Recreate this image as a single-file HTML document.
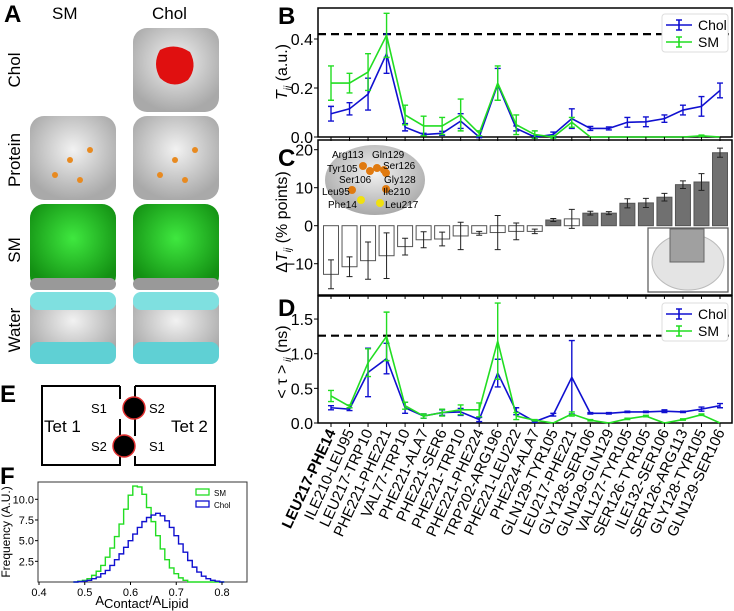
<!DOCTYPE html>
<html><head><meta charset="utf-8"><style>
body{margin:0;background:#fff;font-family:"Liberation Sans","DejaVu Sans",sans-serif}
svg{display:block}
</style></head><body>
<svg id="fig" width="734" height="611" viewBox="0 0 734 611" xmlns="http://www.w3.org/2000/svg" font-family="Liberation Sans, DejaVu Sans, sans-serif">
<defs>
<radialGradient id="gw" cx="50%" cy="40%" r="60%"><stop offset="0" stop-color="#f2f2f2"/><stop offset="1" stop-color="#a9a9a9"/></radialGradient>
<radialGradient id="gg" cx="50%" cy="40%" r="60%"><stop offset="0" stop-color="#3fe83f"/><stop offset="1" stop-color="#139013"/></radialGradient>
</defs>
<g>
<text x="4" y="22" font-size="24" font-weight="bold">A</text>
<text x="52" y="19" font-size="17">SM</text>
<text x="152" y="19" font-size="17">Chol</text>
<text transform="translate(20,70) rotate(-90)" font-size="17" text-anchor="middle">Chol</text>
<text transform="translate(20,160) rotate(-90)" font-size="17" text-anchor="middle">Protein</text>
<text transform="translate(20,250) rotate(-90)" font-size="17" text-anchor="middle">SM</text>
<text transform="translate(20,330) rotate(-90)" font-size="17" text-anchor="middle">Water</text>
<g>
<rect x="133" y="28" width="86" height="84" rx="14" fill="url(#gw)"/>
<path d="M160 50 q15 -8 30 2 q8 15 -2 28 q-15 10 -28 -2 q-8 -14 0 -28z" fill="#e01010"/>
</g>
<g><rect x="30" y="116" width="86" height="84" rx="14" fill="url(#gw)"/>
<circle cx="70" cy="160" r="3" fill="#e88a20"/><circle cx="55" cy="175" r="3" fill="#e88a20"/><circle cx="90" cy="150" r="3" fill="#e88a20"/><circle cx="80" cy="180" r="3" fill="#e88a20"/></g>
<g><rect x="133" y="116" width="86" height="84" rx="14" fill="url(#gw)"/>
<circle cx="175" cy="160" r="3" fill="#e88a20"/><circle cx="160" cy="175" r="3" fill="#e88a20"/><circle cx="195" cy="150" r="3" fill="#e88a20"/><circle cx="185" cy="180" r="3" fill="#e88a20"/></g>
<g><rect x="30" y="204" width="86" height="86" rx="14" fill="url(#gg)"/><rect x="30" y="278" width="86" height="12" rx="6" fill="#999"/></g>
<g><rect x="133" y="204" width="86" height="86" rx="14" fill="url(#gg)"/><rect x="133" y="278" width="86" height="12" rx="6" fill="#999"/></g>
<g><rect x="30" y="292" width="86" height="72" rx="14" fill="url(#gw)"/><rect x="30" y="292" width="86" height="18" rx="8" fill="#7fe0e0"/><rect x="30" y="342" width="86" height="22" rx="8" fill="#5fd0d4"/></g>
<g><rect x="133" y="292" width="86" height="72" rx="14" fill="url(#gw)"/><rect x="133" y="292" width="86" height="18" rx="8" fill="#7fe0e0"/><rect x="133" y="342" width="86" height="22" rx="8" fill="#5fd0d4"/></g>
</g>
<g>
<text x="0" y="402" font-size="24" font-weight="bold">E</text>
<path d="M120 386 H42 V465 H120 V456 M120 436 V419 M120 399 V386" fill="none" stroke="#000" stroke-width="2"/>
<path d="M135 386 H215 V465 H135 V456 M135 436 V419 M135 399 V386" fill="none" stroke="#000" stroke-width="2"/>
<circle cx="134" cy="408" r="11" fill="#000" stroke="#e03030" stroke-width="1.5"/>
<circle cx="124" cy="446" r="11" fill="#000" stroke="#e03030" stroke-width="1.5"/>
<text x="44" y="432" font-size="17">Tet 1</text>
<text x="171" y="432" font-size="17">Tet 2</text>
<text x="91" y="413" font-size="13">S1</text>
<text x="91" y="451" font-size="13">S2</text>
<text x="149" y="413" font-size="13">S2</text>
<text x="149" y="451" font-size="13">S1</text>
</g>
<text x="0" y="484" font-size="24" font-weight="bold">F</text>
<text x="278" y="24" font-size="24" font-weight="bold">B</text>
<text x="278" y="166" font-size="24" font-weight="bold">C</text>
<text x="278" y="316" font-size="24" font-weight="bold">D</text>
<g id="plots"></g>
</svg>
<script>
const categories=["LEU217-PHE14","ILE210-LEU95","LEU217-TRP10","PHE221-PHE221","VAL77-TRP10","PHE221-ALA7","PHE221-SER6","PHE221-TRP10","PHE221-PHE224","TRP202-ARG196","PHE221-LEU222","PHE224-ALA7","GLN129-TYR105","LEU217-PHE221","GLY128-SER106","GLN129-GLN129","VAL127-TYR105","SER126-TYR105","ILE132-SER106","SER126-ARG113","GLY128-TYR105","GLN129-SER106"];
const bChol=[0.095,0.115,0.175,0.34,0.04,0.01,0.015,0.065,0.0,0.215,0.035,0.0,0.01,0.075,0.035,0.035,0.06,0.062,0.075,0.11,0.125,0.19];
const bCholErr=[0.03,0.025,0.065,0.08,0.015,0.005,0.008,0.03,0.003,0.065,0.01,0.005,0.01,0.04,0.008,0.006,0.02,0.02,0.015,0.02,0.04,0.03];
const bSM=[0.22,0.22,0.265,0.415,0.09,0.045,0.045,0.09,0.015,0.22,0.05,0.01,0.0,0.06,0,0,0,0,0,0,0.005,0];
const bSMErr=[0.07,0.04,0.075,0.09,0.04,0.04,0.035,0.065,0.01,0.07,0.04,0.015,0.005,0.02,0,0,0,0,0,0,0.003,0];
const bRef=0.42;
const bTicks=[0.0,0.2,0.4];
const cVals=[-12.8,-10.8,-9.2,-7.9,-5.5,-3.7,-3.5,-2.7,-2.0,-1.8,-1.5,-1.5,1.5,1.8,3.3,3.3,5.9,6.0,7.5,10.8,11.5,19.2];
const cErr=[3.8,2.6,4.9,6.0,2.2,2.1,1.8,3.6,0.5,4.5,2.2,0.6,0.4,2.5,0.5,0.4,1.2,1.2,1.0,1.0,2.2,1.2];
const cFilled=[0,0,0,0,0,0,0,0,0,0,0,0,1,0,1,1,1,1,1,1,1,1];
const cTicks=[-10,0,10,20];
const dChol=[0.22,0.2,0.73,0.93,0.22,0.1,0.15,0.16,0.05,0.72,0.17,0.02,0.12,0.66,0.14,0.14,0.16,0.16,0.17,0.16,0.2,0.25];
const dCholErr=[0.03,0.02,0.35,0.22,0.08,0.03,0.04,0.05,0.03,0.2,0.05,0.01,0.02,0.53,0.01,0.01,0.01,0.01,0.02,0.01,0.03,0.03];
const dSM=[0.39,0.24,0.87,1.25,0.25,0.1,0.15,0.19,0.19,1.18,0.1,0.04,0.0,0.13,0.04,0.0,0.06,0.1,0.0,0.05,0.12,0.0];
const dSMErr=[0.08,0.02,0.2,0.35,0.05,0.03,0.05,0.07,0.1,0.55,0.05,0.01,0,0.03,0.01,0,0.01,0.01,0,0.01,0.01,0];
const dRef=1.26;
const dTicks=[0.0,0.5,1.0,1.5];
const fBins=[0.48,0.49,0.50,0.51,0.52,0.53,0.54,0.55,0.56,0.57,0.58,0.59,0.60,0.61,0.62,0.63,0.64,0.65,0.66,0.67,0.68,0.69,0.70,0.71,0.72,0.73,0.74,0.75,0.76,0.77,0.78,0.79,0.80];
const fSM=[0,0.1,0.2,0.4,0.8,1.3,2.0,3.0,4.1,5.5,7.0,8.8,10.5,11.6,11.5,10.6,9.0,7.3,5.6,4.0,2.7,1.7,1.0,0.5,0.2,0,0,0,0,0,0,0,0];
const fChol=[0,0.05,0.1,0.2,0.4,0.6,1.0,1.4,2.0,2.7,3.4,4.2,5.0,5.8,6.6,7.3,7.8,8.1,8.3,8.0,7.4,6.6,5.6,4.6,3.6,2.6,1.8,1.2,0.7,0.4,0.2,0.1,0];
const fXTicks=[0.4,0.5,0.6,0.7,0.8];
const fYTicks=[2.5,5.0,7.5,10.0];

const NS="http://www.w3.org/2000/svg";
const root=document.getElementById('plots');
function mk(tag,attrs,parent){const e=document.createElementNS(NS,tag);for(const k in attrs)e.setAttribute(k,attrs[k]);(parent||root).appendChild(e);return e;}
const X0=318,X1=732;
function xCat(i){return 331+i*(720-331)/(categories.length-1);}

const yB=v=>137-v*245;
function lineSeries(vals,errs,y,color,name){
  let d='';vals.forEach((v,i)=>{d+=(i?'L':'M')+xCat(i)+' '+y(v);});
  const p=mk('path',{d:d,fill:'none',stroke:color,'stroke-width':1.6});
  
  
  vals.forEach((v,i)=>{if(!errs[i])return;const x=xCat(i);
    const g=mk('path',{d:`M${x} ${y(v-errs[i])}V${y(v+errs[i])}M${x-3} ${y(v-errs[i])}h6M${x-3} ${y(v+errs[i])}h6`,stroke:color,'stroke-width':1.4,fill:'none'});
    
    });
}
function frame(y0,y1,name){const r=mk('rect',{x:X0,y:y0,width:X1-X0,height:y1-y0,fill:'none',stroke:'#000','stroke-width':1.5});
  
  }
function yTicks(ticks,y,fmt,name){ticks.forEach(t=>{mk('line',{x1:X0-4,x2:X0,y1:y(t),y2:y(t),stroke:'#000'});
  const tx=mk('text',{x:X0-5,y:y(t)+6,'font-size':16,'text-anchor':'end'});tx.textContent=fmt(t);
  
  });}
function xTickMarks(y){categories.forEach((c,i)=>{mk('line',{x1:xCat(i),x2:xCat(i),y1:y,y2:y+4,stroke:'#000'});});}
function legend(x,y,name){const g=mk('g',{});
  mk('rect',{x:x,y:y,width:66,height:38,fill:'#fff',stroke:'#ddd',rx:3},g);
  [['#1010d0','Chol'],['#22dd22','SM']].forEach((s,k)=>{const yy=y+11+k*17;
    mk('path',{d:`M${x+4} ${yy}h26M${x+17} ${yy-5}v10M${x+14} ${yy-5}h6M${x+14} ${yy+5}h6`,stroke:s[0],'stroke-width':1.6,fill:'none'},g);
    const t=mk('text',{x:x+36,y:yy+5,'font-size':14},g);t.textContent=s[1];});}
function dashed(y,name){const l=mk('line',{x1:X0,x2:X1,y1:y,y2:y,stroke:'#000','stroke-width':2.2,'stroke-dasharray':'8,5'});
  }

frame(8,137,'panel-b-axes');
dashed(yB(bRef),'panel-b-reference-line');
lineSeries(bChol,bCholErr,yB,'#1010d0','panel-b-chol');
lineSeries(bSM,bSMErr,yB,'#22dd22','panel-b-sm');
yTicks(bTicks,yB,t=>t.toFixed(1),'panel-b-ytick');
xTickMarks(137);
legend(662,14,'panel-b-legend');
{const t=mk('text',{transform:'translate(287,72) rotate(-90)','font-size':16,'text-anchor':'middle'});t.innerHTML='<tspan font-style="italic">T</tspan><tspan font-style="italic" font-size="10" dy="4">ij</tspan><tspan dy="-4"> (a.u.)</tspan>';
 }

const yC=v=>225.7-v*3.8;
frame(140,295,'panel-c-axes');
cVals.forEach((v,i)=>{const x=xCat(i);
  const r=mk('rect',{x:x-7.5,y:Math.min(yC(0),yC(v)),width:15,height:Math.abs(yC(v)-yC(0)),fill:cFilled[i]?'#707070':'#fff',stroke:'#555','stroke-width':1});
  
  
  const e=mk('path',{d:`M${x} ${yC(v-cErr[i])}V${yC(v+cErr[i])}M${x-3} ${yC(v-cErr[i])}h6M${x-3} ${yC(v+cErr[i])}h6`,stroke:'#222','stroke-width':1,fill:'none'});
  
  });
yTicks(cTicks,yC,t=>t<0?'\u2212'+(-t):String(t),'panel-c-ytick');
xTickMarks(295);
{const t=mk('text',{transform:'translate(287,222) rotate(-90)','font-size':16,'text-anchor':'middle'});t.innerHTML='\u0394<tspan font-style="italic">T</tspan><tspan font-style="italic" font-size="10" dy="4">ij</tspan><tspan dy="-4"> (% points)</tspan>';
 }
{const g=mk('g',{});
 mk('ellipse',{cx:375,cy:180,rx:50,ry:35,fill:'url(#gw)'},g);
 [[363,166],[370,171],[377,168],[384,170],[386,173],[352,190],[386,189]].forEach(p=>mk('circle',{cx:p[0],cy:p[1],r:4,fill:'#e07a10'},g));
 [[361,200],[380,203]].forEach(p=>mk('circle',{cx:p[0],cy:p[1],r:4,fill:'#f0e010'},g));
 [['Arg113',332,158],['Gln129',372,158],['Tyr105',327,172],['Ser126',383,169],['Ser106',339,183],['Gly128',384,183],['Leu95',322,195],['Ile210',383,195],['Phe14',328,208],['Leu217',385,208]].forEach(a=>{const t=mk('text',{x:a[1],y:a[2],'font-size':10},g);t.textContent=a[0];});
 const g2=mk('g',{});
 mk('rect',{x:648,y:228,width:80,height:64,fill:'#fff',stroke:'#555','stroke-width':1.2},g2);
 mk('ellipse',{cx:688,cy:262,rx:36,ry:28,fill:'#e4e4e4',stroke:'#bbb'},g2);
 mk('rect',{x:670,y:229,width:34,height:33,fill:'#a0a0a0',stroke:'#666'},g2);}

const yD=v=>423-v*69.3;
frame(296,423,'panel-d-axes');
dashed(yD(dRef),'panel-d-reference-line');
lineSeries(dChol,dCholErr,yD,'#1010d0','panel-d-chol');
lineSeries(dSM,dSMErr,yD,'#22dd22','panel-d-sm');
yTicks(dTicks,yD,t=>t.toFixed(1),'panel-d-ytick');
xTickMarks(423);
legend(662,303,'panel-d-legend');
{const t=mk('text',{transform:'translate(287,362) rotate(-90)','font-size':16,'text-anchor':'middle'});t.innerHTML='&lt; \u03c4 &gt;<tspan font-style="italic" font-size="10" dy="4"> ij</tspan><tspan dy="-4"> (ns)</tspan>';
 }
categories.forEach((c,i)=>{const x=xCat(i)+5;const t=mk('text',{transform:`translate(${x},432) rotate(-65)`,'font-size':15,'text-anchor':'end','font-weight':i===0?'bold':'normal'});t.textContent=c;
  
  });

const xF=v=>39+(v-0.4)*457.5, yF=v=>582-v*8.27;
{const r=mk('rect',{x:38,y:482,width:209,height:100,fill:'none',stroke:'#333','stroke-width':1});}
function stepPath(vals,color,name){let d='';const w=0.01;vals.forEach((v,i)=>{const a=xF(fBins[i]-w/2),b=xF(fBins[i]+w/2);d+=(i?'L':'M')+a+' '+yF(v)+'L'+b+' '+yF(v);});
  const p=mk('path',{d:d,fill:'none',stroke:color,'stroke-width':1.4});}
stepPath(fSM,'#22dd22','panel-f-sm-histogram');
stepPath(fChol,'#1010d0','panel-f-chol-histogram');
fXTicks.forEach(t=>{mk('line',{x1:xF(t),x2:xF(t),y1:582,y2:585,stroke:'#000'});const tx=mk('text',{x:xF(t),y:596,'font-size':11,'text-anchor':'middle'});tx.textContent=t.toFixed(1);
  });
fYTicks.forEach(t=>{mk('line',{x1:35,x2:38,y1:yF(t),y2:yF(t),stroke:'#000'});const tx=mk('text',{x:34,y:yF(t)+4,'font-size':11,'text-anchor':'end'});tx.textContent=t.toFixed(1);
  });
{const t=mk('text',{transform:'translate(10,532) rotate(-90)','font-size':12,'text-anchor':'middle'});t.textContent='Frequency (A.U.)';
 const t2=mk('text',{x:142,y:605,'font-size':13,'text-anchor':'middle'});t2.innerHTML='A<tspan dy="3">Contact</tspan><tspan dy="-3">/A</tspan><tspan dy="3">Lipid</tspan>';
 const g=mk('g',{});
 mk('rect',{x:196,y:489,width:13,height:6,fill:'none',stroke:'#22dd22','stroke-width':1.3},g);
 mk('rect',{x:196,y:501,width:13,height:6,fill:'none',stroke:'#1010d0','stroke-width':1.3},g);
 const a=mk('text',{x:214,y:496,'font-size':8},g);a.textContent='SM';
 const b=mk('text',{x:214,y:508,'font-size':8},g);b.textContent='Chol';}
</script>
</body></html>
